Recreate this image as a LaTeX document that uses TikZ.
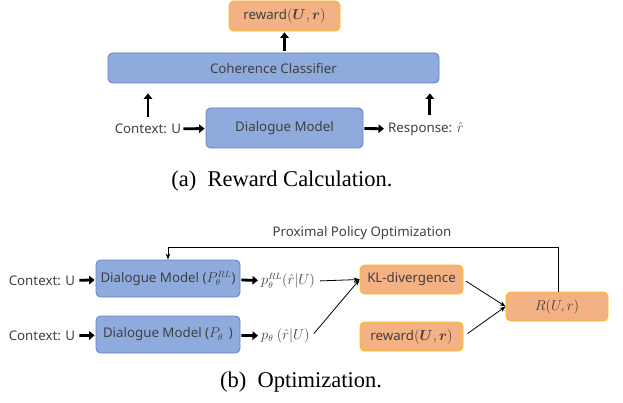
\documentclass[tikz,border=0pt]{standalone}
\usepackage{fontspec}
\usepackage{bm}
\setmainfont{Liberation Serif}
\setsansfont{Noto Sans}
\usetikzlibrary{arrows.meta}
\definecolor{BoxBlue}{RGB}{143,170,220}
\definecolor{BoxBlueLine}{RGB}{98,128,196}
\definecolor{BoxOrange}{RGB}{244,177,131}
\definecolor{BoxGold}{RGB}{255,192,0}
\definecolor{LabelGrey}{RGB}{64,64,64}
\tikzset{
  lbl/.style={text=LabelGrey,inner sep=2pt,font=\sffamily\fontsize{13.3}{15}\selectfont},
  bluebox/.style={lbl,draw=BoxBlueLine,fill=BoxBlue,rounded corners=4.5pt,line width=0.8pt},
  orangebox/.style={lbl,draw=BoxGold,fill=BoxOrange,rounded corners=4.5pt,line width=0.8pt},
  capt/.style={inner sep=0pt,font=\fontsize{22.5}{26}\selectfont},
  fatarrow/.style={line width=2.8pt,-{Triangle[width=8.5pt,length=5.5pt]}},
  thinarrow/.style={line width=0.8pt,-{Stealth[length=6pt,width=4.5pt]}},
  thinline/.style={line width=0.8pt},
}

\begin{document}
\begin{tikzpicture}[x=1pt,y=-1pt]
\useasboundingbox (0,0) rectangle (623,403);

\node[orangebox,minimum width=111pt,minimum height=30pt] (rwdA) at (284.5,16) {reward$(\bm{U},\bm{r})$};
\node[bluebox,minimum width=331pt,minimum height=30pt] (cls) at (273.5,68) {Coherence Classifier};
\node[bluebox,minimum width=157pt,minimum height=40pt] (dm) at (284.5,128) {Dialogue Model};
\node[lbl] (ctxA) at (148,129) {Context: U};
\node[lbl,anchor=west] (respA) at (386,129) {Response: $\hat{r}$};
\node[capt] (capA) at (282,181) {(a)~~Reward Calculation.};

\draw[fatarrow,shorten >=1pt] (ctxA) -- (dm);
\draw[fatarrow,shorten <=1pt,shorten >=2pt] (dm) -- (respA);
\draw[fatarrow,shorten <=5pt,shorten >=10pt] (ctxA.north) -- (ctxA.north |- cls.south);
\draw[fatarrow,shorten <=5pt,shorten >=10pt] ([xshift=4pt]respA.north) -- ([xshift=4pt]respA.north |- cls.south);
\draw[fatarrow,shorten <=2pt,shorten >=1pt] (cls.north -| rwdA) -- (rwdA.south);

\node[lbl] (ppo) at (362,233) {Proximal Policy Optimization};
\node[bluebox,minimum width=144pt,minimum height=37pt] (dmRL) at (168,278.5) {Dialogue Model ($P_{\theta}^{RL}$)};
\node[bluebox,minimum width=144pt,minimum height=37pt] (dmP) at (168,334.5) {Dialogue Model ($P_{\theta}$\ \,)};
\node[lbl] (ctxB) at (42,281) {Context: U};
\node[lbl] (ctxC) at (42,336) {Context: U};
\node[lbl,anchor=west] (pRL) at (259,281) {$p_{\theta}^{RL}(\hat{r}|U)$};
\node[lbl,anchor=west] (pP) at (259,336) {$p_{\theta}\ (\hat{r}|U)$};
\node[orangebox,minimum width=103pt,minimum height=29pt] (kl) at (411.5,279.5) {KL-divergence};
\node[orangebox,minimum width=103pt,minimum height=29pt] (rwdB) at (411.5,336.5) {reward$(\bm{U},\bm{r})$};
\node[orangebox,minimum width=102pt,minimum height=29pt] (rew) at (557,306.5) {$R(U,r)$};
\coordinate (fbTop) at (558,247);
\node[capt] (capB) at (301,382) {(b)~~Optimization.};

\draw[fatarrow,shorten <=2pt,shorten >=1pt] (ctxB) -- (dmRL);
\draw[fatarrow,shorten <=2pt,shorten >=1pt] (ctxC) -- (dmP);
\draw[fatarrow,shorten <=1pt,shorten >=1pt] (dmRL) -- (pRL);
\draw[fatarrow,shorten <=1pt,shorten >=1pt] (dmP) -- (pP);
\draw[thinarrow,shorten <=3pt] (pRL.east) -- (kl.west);
\draw[thinarrow,shorten <=3pt] (pP.east) -- (kl.west);
\draw[thinarrow,shorten <=3pt] (kl.east) -- (rew.west);
\draw[thinarrow,shorten <=5pt] (rwdB.east) -- (rew.west);
\draw[thinarrow] (rew.north -| fbTop) -- (fbTop) -| (dmRL.north);
\end{tikzpicture}
\end{document}
